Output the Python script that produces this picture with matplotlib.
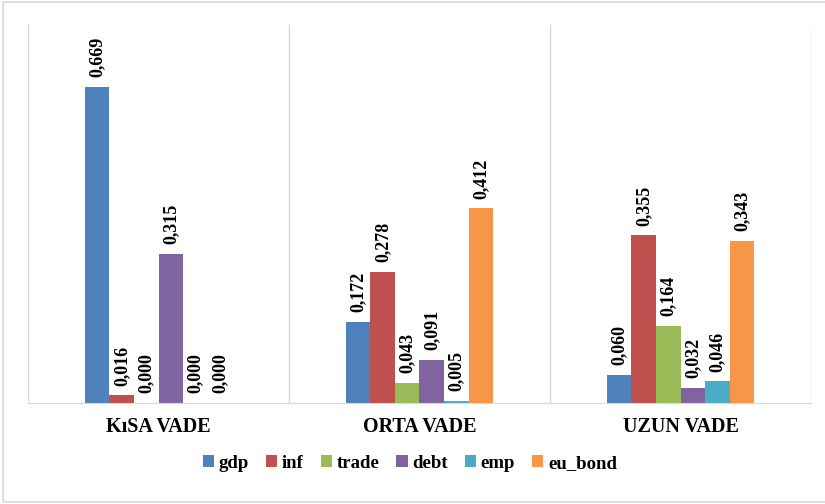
import matplotlib.pyplot as plt
import numpy as np
from matplotlib.patches import Rectangle

categories = ["K\u0131SA VADE", "ORTA VADE", "UZUN VADE"]
series = ["gdp", "inf", "trade", "debt", "emp", "eu_bond"]
gdp = [0.669, 0.172, 0.060]
inf = [0.016, 0.278, 0.355]
trade = [0.000, 0.043, 0.164]
debt = [0.315, 0.091, 0.032]
emp = [0.000, 0.005, 0.046]
eu_bond = [0.000, 0.412, 0.343]
colors = ["#4F81BD", "#C0504D", "#9BBB59", "#8064A2", "#4BACC6", "#F79646"]

values = [gdp, inf, trade, debt, emp, eu_bond]
serif = "Liberation Serif"

fig = plt.figure(figsize=(8.25, 5.04), dpi=100)
ax = fig.add_axes([28 / 825, 101 / 504, 783 / 825, 378 / 504])

x = np.arange(len(categories))
width = 0.094
for i, (name, vals) in enumerate(zip(series, values)):
    pos = x + (i - 2.5) * width
    bars = ax.bar(pos, vals, width, color=colors[i], label=name, zorder=2)
    for b, v in zip(bars, vals):
        ax.annotate(f"{v:.3f}".replace(".", ","), (b.get_x() + b.get_width() / 2, v),
                    xytext=(0, 7), textcoords="offset points", rotation=90,
                    ha="center", va="bottom", fontsize=13, fontweight="bold",
                    family=serif)

ax.set_xlim(-0.5, 2.5)
ax.set_ylim(0, 0.8)
ax.set_yticks([])
ax.set_xticks(x)
ax.set_xticklabels(categories, fontsize=14.5, fontweight="bold", family=serif)
ax.tick_params(axis="x", length=0, pad=10)
for b in [-0.5, 0.5, 1.5, 2.5]:
    ax.axvline(b, color="#D9D9D9", linewidth=1, zorder=1)
for s in ["top", "left", "right"]:
    ax.spines[s].set_visible(False)
ax.spines["bottom"].set_color("#D9D9D9")

fig.legend(loc="center", bbox_to_anchor=(0.497, 0.081), ncol=6, frameon=False,
           prop={"family": serif, "size": 13.5, "weight": "bold"},
           handlelength=0.6, handleheight=0.6, handletextpad=0.25, columnspacing=0.9)

fig.patches.append(Rectangle((3 / 825, 2 / 504), 1.0, 500 / 504, transform=fig.transFigure,
                             fill=False, edgecolor="#D9D9D9", linewidth=1.2))

fig.savefig("out.png", dpi=100)
